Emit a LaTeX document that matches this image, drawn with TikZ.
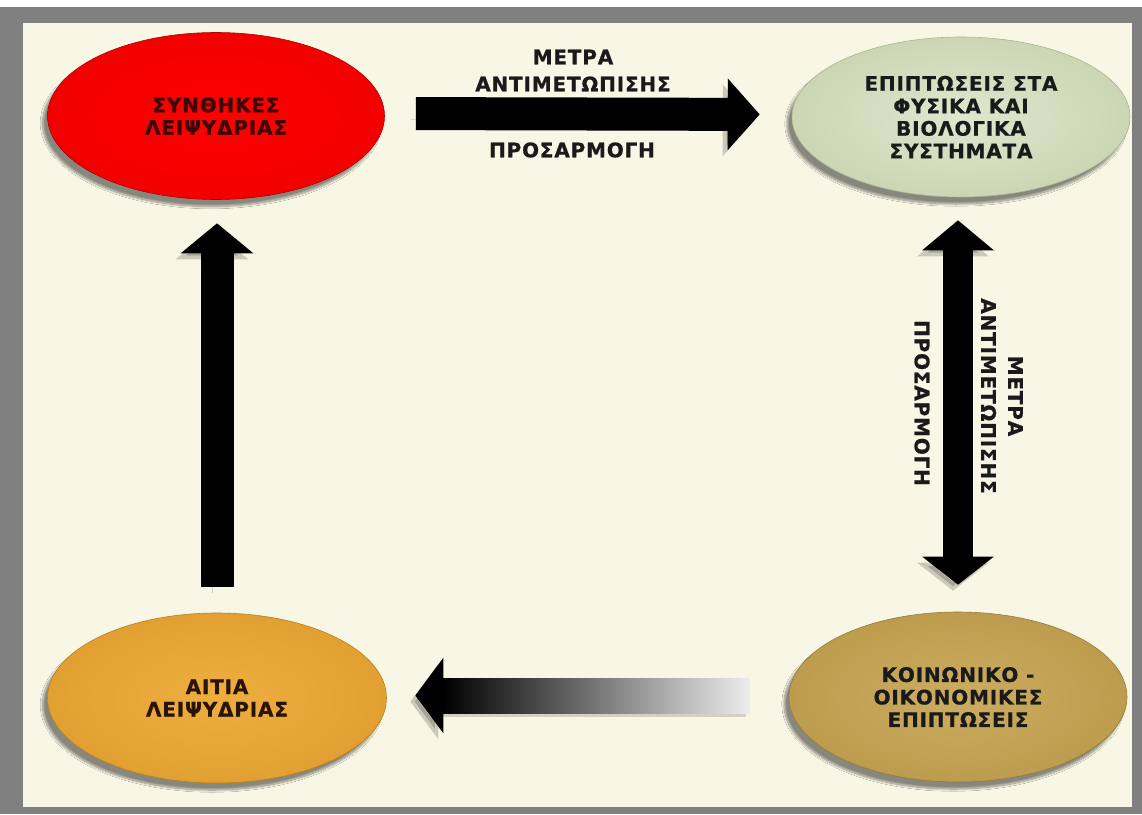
\documentclass[tikz,border=0pt]{standalone}
\usepackage{fontspec}
\setmainfont{DejaVu Sans}
\newfontfamily\lblfont[LetterSpace=4, BoldFeatures={FakeBold=0.8}]{DejaVu Sans}
\usetikzlibrary{arrows.meta,shapes.geometric,shadows.blur,calc}

\definecolor{paper}{HTML}{F8F6E4}
\definecolor{frame}{HTML}{808080}
\definecolor{redin}{HTML}{FF0000}
\definecolor{redout}{HTML}{F20000}
\definecolor{redrim}{HTML}{B00000}
\definecolor{greenin}{HTML}{DFE6CE}
\definecolor{greenout}{HTML}{CCD6B4}
\definecolor{greenrim}{HTML}{A9B78F}
\definecolor{orangein}{HTML}{EDAE40}
\definecolor{orangeout}{HTML}{E2A032}
\definecolor{orangerim}{HTML}{B7801F}
\definecolor{tanin}{HTML}{CCAC60}
\definecolor{tanout}{HTML}{BD9C4E}
\definecolor{tanrim}{HTML}{957A3A}
\definecolor{ink}{HTML}{1A1A1A}
\definecolor{redink}{HTML}{3A0606}
\definecolor{brownink}{HTML}{2A1406}

\tikzset{
  x=1pt, y=-1pt,
  stage/.style={ellipse, inner sep=0pt, align=center,
    font=\lblfont\bfseries\fontsize{20}{22.5}\selectfont, text=ink,
    blur shadow={shadow xshift=-5pt, shadow yshift=-7pt,
                 shadow opacity=45, shadow blur steps=12}},
  lbl/.style={inner sep=0pt, align=center, text=ink,
    font=\lblfont\bfseries\fontsize{20}{27}\selectfont},
  arrowshade/.style={preaction={draw=black, opacity=.18,
      transform canvas={shift={(-5pt,-6pt)}}}},
  blockarrow/.style={draw=black, line width=#1, arrowshade},
}

\begin{document}
\begin{tikzpicture}
% page, frame and paper
\useasboundingbox (0,0) rectangle (1142,814);
\fill[white] (0,0) rectangle (1142,814);
\fill[frame] (0,7) rectangle (1142,814);
\fill[paper] (23,23) rectangle (1132,807);

% the four stages
\node[stage, minimum width=337pt, minimum height=167pt,
      inner color=redin, outer color=redout, draw=redrim, line width=.6pt,
      text=redink] (red) at (216,116) {ΣΥΝΘΗΚΕΣ\\ΛΕΙΨΥΔΡΙΑΣ};
\node[stage, minimum width=338pt, minimum height=160pt,
      inner color=greenin, outer color=greenout, draw=greenrim, line width=.6pt]
      (green) at (961,117) {ΕΠΙΠΤΩΣΕΙΣ ΣΤΑ\\ΦΥΣΙΚΑ ΚΑΙ\\ΒΙΟΛΟΓΙΚΑ\\ΣΥΣΤΗΜΑΤΑ};
\node[stage, minimum width=339pt, minimum height=170pt,
      inner color=orangein, outer color=orangeout, draw=orangerim, line width=.6pt,
      text=brownink] (orange) at (217,698) {ΑΙΤΙΑ\\ΛΕΙΨΥΔΡΙΑΣ};
\node[stage, minimum width=338pt, minimum height=170pt,
      inner color=tanin, outer color=tanout, draw=tanrim, line width=.6pt]
      (tan) at (958,697) {ΚΟΙΝΩΝΙΚΟ -\\ΟΙΚΟΝΟΜΙΚΕΣ\\ΕΠΙΠΤΩΣΕΙΣ};

% conditions -> impacts on natural and biological systems
\draw[blockarrow=33pt, -{Triangle[length=32pt,width=70pt]},
      shorten <=31pt, shorten >=32pt]
  ([yshift=2.5pt]red.east) -- ([yshift=2.5pt]green.west);
\node[lbl] (topmeasures) at (573,70.5) {ΜΕΤΡΑ\\ΑΝΤΙΜΕΤΩΠΙΣΗΣ};
\node[lbl] (topadapt) at (572,150) {ΠΡΟΣΑΡΜΟΓΗ};

% impacts on natural systems <-> socio-economic impacts
\draw[blockarrow=30pt, {Triangle[length=30pt,width=70pt]}-{Triangle[length=28pt,width=70pt]},
      shorten <=23pt, shorten >=27pt]
  (tan.north |- green.south) -- (tan.north);
\node[lbl, rotate=-90] (sidemeasures) at (1002,396) {ΜΕΤΡΑ\\ΑΝΤΙΜΕΤΩΠΙΣΗΣ};
\node[lbl, rotate=-90] (sideadapt) at (922,403) {ΠΡΟΣΑΡΜΟΓΗ};

% socio-economic impacts -> causes (fading arrow)
\coordinate (gtail) at ($(tan.west)+(-39,-1.5)$);
\coordinate (gtip) at ($(orange.east |- gtail)+(28.5,0)$);
\fill[black, opacity=.15] ($(gtip)+(24,-13)$) rectangle ($(gtail)+(-4,21)$);
\shade[left color=black, right color=white!93!black]
  ($(gtip)+(27,-17.5)$) rectangle ($(gtail)+(0,17.5)$);
\draw[blockarrow=35pt, -{Triangle[length=28pt,width=74pt]}]
  ($(gtip)+(30,0)$) -- (gtip);

% causes -> conditions
\draw[blockarrow=33pt, -{Triangle[length=30pt,width=71pt]},
      shorten <=26pt, shorten >=23.5pt]
  (orange.north) -- (orange.north |- red.south);
\end{tikzpicture}
\end{document}
